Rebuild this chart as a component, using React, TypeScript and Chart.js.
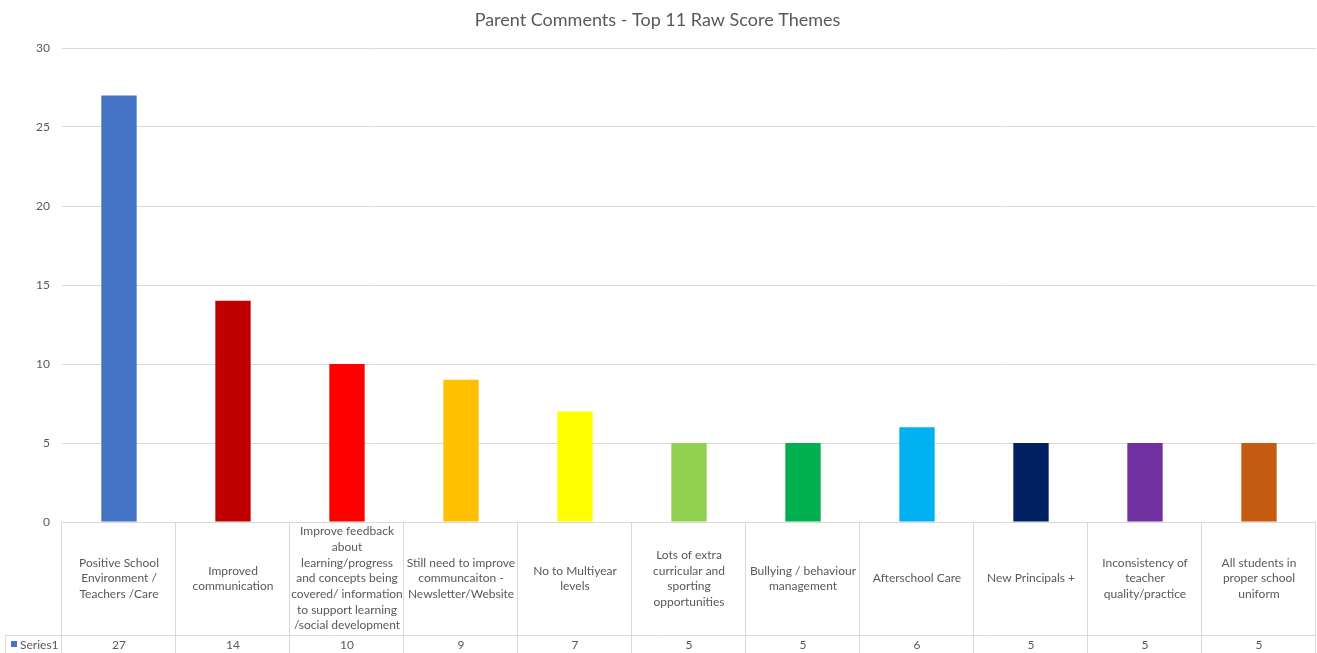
import React, { useEffect, useRef } from "react";
import { Chart, registerables } from "chart.js";

Chart.register(...registerables);

const title = "Parent Comments - Top 11 Raw Score Themes";
const seriesName = "Series1";
const categories: string[][] = [
  ["Positive School", "Environment /", "Teachers /Care"],
  ["Improved", "communication"],
  ["Improve feedback", "about", "learning/progress", "and concepts being", "covered/ information", "to support learning", "/social development"],
  ["Still need to improve", "communcaiton -", "Newsletter/Website"],
  ["No to Multiyear", "levels"],
  ["Lots of extra", "curricular and", "sporting", "opportunities"],
  ["Bullying / behaviour", "management"],
  ["Afterschool Care"],
  ["New Principals +"],
  ["Inconsistency of", "teacher", "quality/practice"],
  ["All students in", "proper school", "uniform"],
];
const values = [27, 14, 10, 9, 7, 5, 5, 6, 5, 5, 5];
const barColors = [
  "#4472C4", "#C00000", "#FF0000", "#FFC000", "#FFFF00", "#92D050",
  "#00B050", "#00B0F0", "#002060", "#7030A0", "#C55A11",
];

const W = 1317;
const H = 653;
const FONT = "Lato, 'Open Sans', sans-serif";
const TEXT = "#595959";
const GRID = "#d9d9d9";

const tablePlugin = {
  id: "dataTable",
  afterDraw(chart: any) {
    const { ctx, chartArea } = chart;
    const left = chartArea.left;
    const right = chartArea.right;
    const bottom = chartArea.bottom;
    const n = categories.length;
    const cw = (right - left) / n;
    const rowY = 635.5;
    ctx.save();
    // title
    ctx.fillStyle = TEXT;
    ctx.font = `18px ${FONT}`;
    ctx.textAlign = "center";
    ctx.textBaseline = "middle";
    ctx.fillText(title, W / 2 - 1, 20);

    ctx.strokeStyle = GRID;
    ctx.lineWidth = 1;
    ctx.beginPath();
    for (let i = 0; i <= n; i++) {
      const x = Math.round(left + i * cw) - 0.5;
      ctx.moveTo(x, bottom);
      ctx.lineTo(x, H);
    }
    ctx.moveTo(5, rowY);
    ctx.lineTo(right, rowY);
    ctx.moveTo(5.5, rowY);
    ctx.lineTo(5.5, H);
    ctx.stroke();

    ctx.font = `12px ${FONT}`;
    ctx.fillStyle = TEXT;
    ctx.textAlign = "center";
    ctx.textBaseline = "middle";
    const lh = 15.7;
    const midY = 578.5;
    categories.forEach((lines, i) => {
      const cx = left + (i + 0.5) * cw;
      const y0 = midY - ((lines.length - 1) * lh) / 2;
      lines.forEach((t, j) => ctx.fillText(t, cx, y0 + j * lh));
      ctx.fillText(String(values[i]), cx, 645);
    });
    // legend key
    ctx.fillStyle = barColors[0];
    ctx.fillRect(11, 641, 6, 6);
    ctx.fillStyle = TEXT;
    ctx.textAlign = "left";
    ctx.fillText(seriesName, 20, 645);
    ctx.restore();
  },
};

export default function App() {
  const ref = useRef<HTMLCanvasElement>(null);
  useEffect(() => {
    document.body.style.margin = "0";
    document.body.style.overflow = "hidden";
    const chart = new Chart(ref.current!, {
      type: "bar",
      data: {
        labels: categories.map((c) => c.join(" ")),
        datasets: [
          {
            label: seriesName,
            data: values,
            backgroundColor: barColors,
            categoryPercentage: 1,
            barPercentage: 0.31,
          },
        ],
      },
      options: {
        responsive: false,
        animation: false,
        layout: { padding: { top: 48, bottom: 131, right: 1, left: 0 } },
        plugins: {
          legend: { display: false },
          title: { display: false },
          tooltip: { enabled: false },
        },
        scales: {
          x: { display: false },
          y: {
            min: 0,
            max: 30,
            ticks: {
              stepSize: 5,
              color: TEXT,
              padding: 12,
              font: { family: FONT, size: 12 },
            },
            grid: { color: GRID, drawTicks: false },
            border: { display: false },
            afterFit: (s: any) => {
              s.width = 62;
            },
          },
        },
      },
      plugins: [tablePlugin],
    });
    return () => chart.destroy();
  }, []);
  return (
    <div style={{ width: W, height: H }}>
      <canvas ref={ref} width={W} height={H} style={{ display: "block" }} />
    </div>
  );
}
